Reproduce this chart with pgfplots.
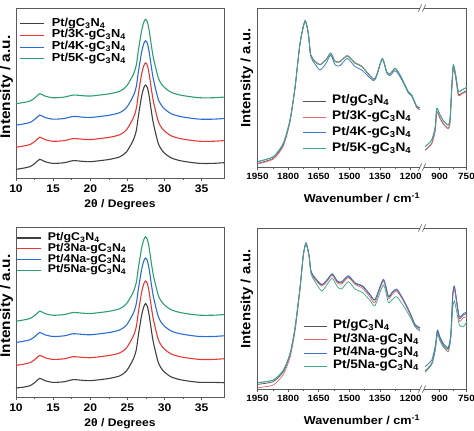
\documentclass[border=0pt]{standalone}
\usepackage{pgfplots}
\pgfplotsset{compat=1.18}
\usepackage{pgfplotstable}
\usepackage{fontspec}
\setmainfont{Liberation Sans}[FakeStretch=1.1]

\definecolor{cK}{HTML}{404040}
\definecolor{cR}{HTML}{E53935}
\definecolor{cB}{HTML}{2B6CD4}
\definecolor{cG}{HTML}{2E9E6E}
\definecolor{rK}{HTML}{555555}
\definecolor{rR}{HTML}{E06A72}
\definecolor{rB}{HTML}{3F72C8}
\definecolor{rG}{HTML}{3DAA88}
\definecolor{axc}{HTML}{5A5A5A}

\newcommand{\gcn}{gC\textsubscript{3}N\textsubscript{4}}

\pgfplotstableread{
x k0 k3 k4 k5
10 5.1 18.1 31.1 43.7
11 5.8 18.8 31.8 44.4
11.9 6.7 19.7 32.7 45.3
12.56 8.6 21.6 34.6 47.2
13.2 11 24 37 49.6
13.9 9.6 22.6 35.6 48.2
15 8.6 21.6 34.6 47.2
16.5 9.0 22 35 47.6
17.7 10.2 23.2 36.2 48.8
19 9.8 22.8 35.8 48.4
20 9.6 22.6 35.6 48.2
21.3 10.2 23.2 36.2 48.8
22.65 11 24 37 49.6
24 12.5 25.5 38.5 51.1
24.9 15.5 28.5 41.5 54.1
25.8 22.4 35.4 48.4 61
26.2 28 41 54 66.6
26.46 36 49 62 74.6
26.9 47.8 60.8 73.8 86.4
27.2 53 66 79 91.6
27.45 54.7 67.7 80.7 93.3
27.7 53 66 79 91.6
27.94 47.8 60.8 73.8 86.4
28.2 40 53 66 78.6
28.5 32 45 58 70.6
29.15 20.4 33.4 46.4 59
29.7 16 29 42 54.6
30.3 13.5 26.5 39.5 52.1
31 11.6 24.6 37.6 50.2
32.1 10.2 23.2 36.2 48.8
33.5 9.2 22.2 35.2 47.8
34.8 8.6 21.6 34.6 47.2
36.5 8.6 21.6 34.6 47.2
38 9.0 22 35 47.6
}\xrdK

\pgfplotstableread{
x k0 n3 n4 n5
10 5.3 18.6 32.1 44.6
11 5.8 19.3 32.8 45.3
11.9 6.7 20.2 33.7 46.2
12.56 8.6 22.1 35.6 48.1
13.2 11 24.5 38 50.5
13.9 9.6 23.1 36.6 49.1
15 8.6 22.1 35.6 48.1
16.5 9.0 22.5 36 48.5
17.7 10.2 23.7 37.2 49.7
19 9.8 23.3 36.8 49.3
20 9.6 23.1 36.6 49.1
21.3 10.2 23.7 37.2 49.7
22.65 11 24.5 38 50.5
24 12.5 26 39.5 52
24.9 15.5 29 42.5 55
25.8 22.4 35.9 49.4 61.9
26.2 28 41.5 55 67.5
26.46 36 49.5 63 75.5
26.9 47.8 61.3 74.8 87.3
27.2 53 66.5 80 92.5
27.45 55 68.2 81.7 94.2
27.7 53 66.5 80 92.5
27.94 47.8 61.3 74.8 87.3
28.2 40 53.5 67 79.5
28.5 32 45.5 59 71.5
29.15 20.4 33.9 47.4 59.9
29.7 16 29.5 43 55.5
30.3 13.5 27 40.5 53
31 11.6 25.1 38.6 51.1
32.1 10.2 23.7 37.2 49.7
33.5 9.2 22.7 36.2 48.7
34.8 8.6 22.1 35.6 48.1
36.5 8.6 22.1 35.6 48.1
38 8.4 22.5 36 48.5
}\xrdNa

\pgfplotstableread{
x k0 k3 k4 k5
1950 2.3 1.9 3.4 3.4
1872.6 5.5 5.0 6.5 6.5
1823.6 13.8 13.2 14.9 14.9
1790.8 28.8 28.3 29.6 29.6
1766 50.0 49.6 50.5 50.5
1741.8 77.5 77.3 77.8 77.8
1717.3 92 92 91.5 92
1701 84.1 84.1 83.5 84.1
1689.4 70.6 70.6 69.6 70.4
1668.3 66.5 66.6 64.8 66.2
1643.8 64.3 64.5 61 64.2
1614.4 67.5 67.6 65.2 67.3
1591.4 71.6 71.7 70.4 71.5
1570 66.4 66.5 64.2 66.2
1545.8 66.3 66.5 63.7 66.2
1510 70 70.1 68.3 69.8
1472.3 65.4 65.6 63.1 65.2
1439.5 63.3 63.5 61 63.1
1382.7 55.2 55.4 54.3 55.2
1366 57.9 58 57.3 57.9
1338.5 68.1 68.2 67.9 68.3
1317 59.8 59.9 59.2 59.9
1300.8 58.4 58.5 57.5 58.5
1276.3 62 62.1 60.6 62.1
1251.8 57.8 57.9 56.8 57.9
1211 47.1 47.1 46.6 47.4
1194.5 45 45 44.6 45.3
1170 37.5 37.4 37.9 38.4
1153.8 36.1 36.1 37.3 37.5
1000 nan nan nan nan
982 10.7 10.5 12.8 12.8
944.6 14.9 14.6 17 17
925 23.3 23 25.3 25.3
916.6 34.8 34.6 36.9 36.9
898 30.6 30.4 32.7 32.7
875.7 26.6 26.3 28.5 28.5
851.6 24.3 24.1 26.4 26.4
842 28.6 28.4 30.6 30.6
832.6 48.5 48.2 50.5 50.5
823.7 62.6 62.2 64.2 64.2
808.5 55.2 54.6 56.8 56.8
795.7 45.6 45 47.4 47.4
776.6 46.4 45.9 48.4 48.4
748.6 48.2 47.4 50.1 50.1
}\irK

\pgfplotstableread{
x k0 n3 n4 n5
1950 2.9 0.8 3.9 3.9
1872.6 4.6 2.5 5.6 5.6
1823.6 10.8 9.1 11.6 11.6
1790.8 21.1 19.5 21.9 21.9
1766 37.7 36 38.3 38.3
1741.8 62.5 61.5 63 63
1725.6 83.2 82.6 83.5 83.2
1712.4 90.5 90 90.8 90.2
1697.7 83.2 82.8 83.4 82.5
1687.9 72.9 72.4 73.2 71.5
1668.3 68.7 68.1 69.2 66.7
1635.5 64.6 64 65 60.9
1608 67.7 67.1 68.1 65.2
1583.5 71.2 70.6 71.6 68.7
1559 66.7 65.8 67.1 63.6
1537.5 66 65.2 66.7 62.1
1505 69.8 69.2 70.4 66.7
1472.3 65.6 65 66 62.1
1434.6 63.6 62.5 64 59.8
1398.8 58.4 57.1 58.8 55.1
1374.3 55.3 53.8 55.7 51.8
1333.6 67.7 67.1 68.1 64.6
1309.1 57.3 56.3 57.8 53.8
1292.5 59.4 58.4 59.8 55.3
1268 61.5 60.9 62.1 57.3
1235.6 55.3 54.7 55.7 51.8
1202.8 47 46.4 47.4 44.9
1178.3 39.8 39.1 40.2 38.7
1153.8 37.7 36.6 38.1 36
1000 nan nan nan nan
982 11.2 10.4 13.9 10.8
944.6 15.9 15.3 18 15.3
925 25.3 24.2 26.9 24.2
913 35.6 34.6 36.6 34
898 31.5 30.2 32.3 29.8
875.7 26.9 25.7 27.7 25.7
851.6 25.3 23.2 26.1 24.2
838 33.5 31.9 34.2 31.5
827 58.4 56.7 58.8 50.1
818 63.6 62.1 64 54.7
804.6 54.2 52.6 54.7 48
790 43.9 42.2 44.9 39.8
767.6 46 44.3 46.8 38.7
748.6 47 44.9 48 41.8
}\irNa

\pgfplotsset{
  panel/.style={
    scale only axis, enlargelimits=false, ymin=0, ymax=100,
    axis line style={axc, line width=0.7pt},
    every tick/.style={axc, line width=0.6pt},
    tick align=outside, xtick pos=bottom, ytick=\empty,
    major tick length=3pt, minor tick length=1.6pt,
    legend cell align=left,
    ylabel={Intensity / a.u.},
    unbounded coords=jump,
  },
  xrd/.style={
    panel, width=208pt, height=170pt,
    xmin=10, xmax=38, xtick={10,15,20,25,30,35}, minor x tick num=1,
    /pgf/number format/assume math mode=true,
    tick label style={font=\bfseries\fontsize{11}{13}\selectfont},
    xlabel={2θ / Degrees},
    xlabel style={font=\bfseries\fontsize{11}{13}\selectfont, at={(axis description cs:0.5,0)}, anchor=center, yshift=-27pt},
    ylabel style={font=\bfseries\fontsize{14}{16}\selectfont, at={(axis description cs:-0.013,0.535)}, anchor=south, inner sep=0pt},
    legend image code/.code={\draw[##1, line width=1.2pt] (0pt,0pt) -- (24pt,0pt);},
    every axis plot/.append style={line width=1.1pt, smooth, tension=0.45},
  },
  ir/.style={
    panel, width=209pt,
    xmin=926.25, xmax=1950, x dir=reverse,
    x filter/.expression={x<1000 ? 270+0.875*x : x},
    xtick={1950,1800,1650,1500,1350,1200,1057.5,926.25},
    xticklabels={1950,1800,1650,1500,1350,1200,900,750},
    minor xtick={1875,1725,1575,1425,1275,991.875},
    tick label style={font=\bfseries\fontsize{9}{11}\selectfont},
    xlabel={Wavenumber / cm\textsuperscript{-1}},
    xlabel style={font=\bfseries\fontsize{11.5}{13}\selectfont, at={(axis description cs:0.5,0)}, anchor=center, yshift=-31pt},
    ylabel style={font=\bfseries\fontsize{13.5}{15}\selectfont, at={(axis description cs:-0.02,0.56)}, anchor=south, inner sep=0pt},
    legend image code/.code={\draw[##1, line width=0.9pt] (0pt,0pt) -- (23pt,0pt);},
    every axis plot/.append style={line width=0.75pt, smooth, tension=0.4},
  },
}

\newcommand{\brk}{%
  \fill[white] ([xshift=-1.6pt,yshift=-4pt]axis cs:1144,0) rectangle ([xshift=1.6pt,yshift=4pt]axis cs:1144,0);
  \fill[white] ([xshift=-1.6pt,yshift=-4pt]axis cs:1144,100) rectangle ([xshift=1.6pt,yshift=4pt]axis cs:1144,100);
  \draw[axc, line width=0.6pt] ([xshift=-3.6pt,yshift=-3.5pt]axis cs:1144,0) -- ([xshift=-0.4pt,yshift=3.5pt]axis cs:1144,0);
  \draw[axc, line width=0.6pt] ([xshift=0.4pt,yshift=-3.5pt]axis cs:1144,0) -- ([xshift=3.6pt,yshift=3.5pt]axis cs:1144,0);
  \draw[axc, line width=0.6pt] ([xshift=-3.6pt,yshift=-3.5pt]axis cs:1144,100) -- ([xshift=-0.4pt,yshift=3.5pt]axis cs:1144,100);
  \draw[axc, line width=0.6pt] ([xshift=0.4pt,yshift=-3.5pt]axis cs:1144,100) -- ([xshift=3.6pt,yshift=3.5pt]axis cs:1144,100);
}

\begin{document}
\begin{tikzpicture}
\path[use as bounding box] (0,0) rectangle (474pt,-431pt);

% top-left
\begin{axis}[xrd, at={(16pt,-178pt)}, anchor=south west,
  legend style={draw=none, fill=none, at={(axis description cs:0.002,0.95)}, anchor=north west,
    font=\bfseries\fontsize{11.6}{12}\selectfont, row sep=1.7pt,
    nodes={inner sep=0pt, text height=0.75em, text depth=0.25em},
    /tikz/every odd column/.append style={column sep=7pt}}]
\addplot[cK] table[x=x,y=k0]{\xrdK}; \addlegendentry{Pt/\gcn}
\addplot[cR] table[x=x,y=k3]{\xrdK}; \addlegendentry{Pt/3K-\gcn}
\addplot[cB] table[x=x,y=k4]{\xrdK}; \addlegendentry{Pt/4K-\gcn}
\addplot[cG] table[x=x,y=k5]{\xrdK}; \addlegendentry{Pt/5K-\gcn}
\end{axis}

% bottom-left
\begin{axis}[xrd, at={(16pt,-397pt)}, anchor=south west,
  legend style={draw=none, fill=none, at={(axis description cs:-0.012,0.978)}, anchor=north west,
    font=\bfseries\fontsize{11.2}{12}\selectfont, row sep=0.8pt,
    nodes={inner sep=0pt, text height=0.75em, text depth=0.25em},
    /tikz/every odd column/.append style={column sep=6pt}}]
\addplot[cK] table[x=x,y=k0]{\xrdNa}; \addlegendentry{Pt/\gcn}
\addplot[cR] table[x=x,y=n3]{\xrdNa}; \addlegendentry{Pt/3Na-\gcn}
\addplot[cB] table[x=x,y=n4]{\xrdNa}; \addlegendentry{Pt/4Na-\gcn}
\addplot[cG] table[x=x,y=n5]{\xrdNa}; \addlegendentry{Pt/5Na-\gcn}
\end{axis}

% top-right
\begin{axis}[ir, height=159pt, at={(257.5pt,-167pt)}, anchor=south west, clip=false,
  legend style={draw=none, fill=none, at={(axis description cs:0.199,0.46)}, anchor=north west,
    font=\bfseries\fontsize{12.4}{13}\selectfont, row sep=5.9pt,
    nodes={inner sep=0pt, text height=0.75em, text depth=0.25em},
    /tikz/every odd column/.append style={column sep=6pt}}]
\addplot[rK] table[x=x,y=k0]{\irK}; \addlegendentry{Pt/\gcn}
\addplot[rR] table[x=x,y=k3]{\irK}; \addlegendentry{Pt/3K-\gcn}
\addplot[rB] table[x=x,y=k4]{\irK}; \addlegendentry{Pt/4K-\gcn}
\addplot[rG] table[x=x,y=k5]{\irK}; \addlegendentry{Pt/5K-\gcn}
\brk
\end{axis}

% bottom-right
\begin{axis}[ir, height=161pt, at={(257.5pt,-389pt)}, anchor=south west, clip=false,
  legend style={draw=none, fill=none, at={(axis description cs:0.203,0.433)}, anchor=north west,
    font=\bfseries\fontsize{12.3}{13}\selectfont, row sep=3.3pt,
    nodes={inner sep=0pt, text height=0.75em, text depth=0.25em},
    /tikz/every odd column/.append style={column sep=6pt}}]
\addplot[rK] table[x=x,y=k0]{\irNa}; \addlegendentry{Pt/\gcn}
\addplot[rR] table[x=x,y=n3]{\irNa}; \addlegendentry{Pt/3Na-\gcn}
\addplot[rB] table[x=x,y=n4]{\irNa}; \addlegendentry{Pt/4Na-\gcn}
\addplot[rG] table[x=x,y=n5]{\irNa}; \addlegendentry{Pt/5Na-\gcn}
\brk
\end{axis}
\end{tikzpicture}
\end{document}
